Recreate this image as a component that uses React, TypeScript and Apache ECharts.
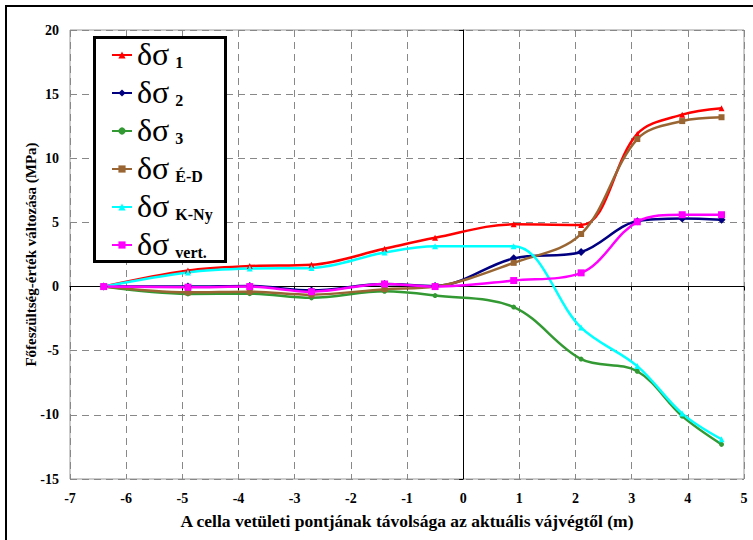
import React, { useEffect, useRef } from "react";
import * as echarts from "echarts";

const xVals = [-6.4, -4.9, -3.8, -2.7, -1.4, -0.5, 0.9, 2.1, 3.1, 3.9, 4.6];
const s1 = [0, 1.25, 1.6, 1.7, 2.95, 3.8, 4.85, 4.8, 11.9, 13.4, 13.9];
const s2 = [0, 0, 0.05, -0.3, 0.2, 0.05, 2.2, 2.7, 5.1, 5.3, 5.2];
const s3 = [0, -0.57, -0.55, -0.88, -0.37, -0.7, -1.6, -5.65, -6.6, -10.1, -12.3];
const sED = [0, -0.45, -0.4, -0.63, -0.2, 0, 1.85, 4.1, 11.5, 12.9, 13.2];
const sKNy = [0, 1.1, 1.4, 1.45, 2.65, 3.15, 3.15, -3.2, -6.2, -9.9, -11.9];
const sVert = [0, -0.05, 0, -0.4, 0.2, 0, 0.47, 1.07, 5.05, 5.6, 5.6];

const seriesNames = ["δσ 1", "δσ 2", "δσ 3", "δσ É-D", "δσ K-Ny", "δσ vert."];
const seriesValues = [s1, s2, s3, sED, sKNy, sVert];
const seriesColors = ["#ff0000", "#000080", "#339933", "#996633", "#00ffff", "#ff00ff"];
const seriesSymbols = ["triangle", "diamond", "circle", "rect", "triangle", "rect"];
const seriesSymbolSizes = [6, 8, 5, 6, 6, 7];

const xTitle = "A cella vetületi pontjának távolsága az aktuális vájvégtől (m)";
const yTitle = "Főfeszültség-érték változása (MPa)";

const FONT = "Liberation Serif";

export default function App() {
  const ref = useRef<HTMLDivElement>(null);
  useEffect(() => {
    if (!ref.current) return;
    const chart = echarts.init(ref.current, null, { renderer: "svg" });
    const axisBase = { type: "value" as const };
    const labelStyle = { color: "#000", fontFamily: FONT, fontWeight: "bold" as const, fontSize: 14 };
    const option: any = {
      animation: false,
      backgroundColor: "#fff",
      textStyle: { fontFamily: FONT },
      grid: { left: 70, top: 30, right: 9, bottom: 61, show: true, borderColor: "#999", borderWidth: 1 },
      xAxis: [
        {
          ...axisBase, min: -7, max: 5, interval: 1,
          axisLine: { onZero: true, onZeroAxisIndex: 0, lineStyle: { color: "#000", width: 1 } },
          axisTick: { show: true, length: 4, lineStyle: { color: "#000" } },
          axisLabel: { show: false },
          splitLine: { show: true, lineStyle: { type: [7, 5], color: "#888", width: 1 } },
        },
        {
          ...axisBase, min: -7, max: 5, interval: 1, position: "bottom",
          axisLine: { show: false, onZero: false },
          axisTick: { show: false },
          axisLabel: { ...labelStyle, margin: 12 },
          splitLine: { show: false },
          name: xTitle, nameLocation: "middle", nameGap: 33, nameMoveOverlap: false,
          nameTextStyle: { color: "#000", fontFamily: FONT, fontWeight: "bold", fontSize: 17.5 },
        },
      ],
      yAxis: [
        {
          ...axisBase, min: -15, max: 20, interval: 5,
          axisLine: { onZero: true, onZeroAxisIndex: 0, lineStyle: { color: "#000", width: 1 } },
          axisTick: { show: true, length: 4, lineStyle: { color: "#000" } },
          axisLabel: { show: false },
          splitLine: { show: true, lineStyle: { type: [7, 5], color: "#888", width: 1 } },
        },
        {
          ...axisBase, min: -15, max: 20, interval: 5, position: "left",
          axisLine: { show: false, onZero: false },
          axisTick: { show: false },
          axisLabel: { ...labelStyle, margin: 11 },
          splitLine: { show: false },
          name: yTitle, nameLocation: "middle", nameGap: 32, nameMoveOverlap: false,
          nameTextStyle: { color: "#000", fontFamily: FONT, fontWeight: "bold", fontSize: 15 },
        },
      ],
      graphic: [
        { type: "rect", z: 0, silent: true, shape: { x: 6, y: 6, width: 800, height: 600 }, style: { fill: "none", stroke: "#000", lineWidth: 2 } },
        { type: "rect", z: 50, silent: true, shape: { x: 94.5, y: 37.5, width: 131, height: 224 }, style: { fill: "#fff", stroke: "#000", lineWidth: 3 } },
      ],
      legend: {
        z: 60,
        orient: "vertical",
        left: 111,
        top: 24,
        padding: 0,
        itemGap: -8,
        itemWidth: 20,
        itemHeight: 9,
        data: seriesNames,
        formatter: (name: string) => {
          const sub = name.slice(3);
          return `{g|δσ}{s|${sub}}`;
        },
        textStyle: {
          color: "#000",
          fontFamily: FONT,
          rich: {
            g: { fontFamily: FONT, fontSize: 32, lineHeight: 30, color: "#000", padding: [14, 0, 0, 0], verticalAlign: "bottom" },
            s: { fontFamily: FONT, fontSize: 16, fontWeight: "bold", lineHeight: 16, color: "#000", padding: [0, 0, 0, 6], verticalAlign: "bottom" },
          },
        },
      },
      series: seriesNames.map((name, i) => ({
        name,
        type: "line",
        xAxisIndex: 0,
        yAxisIndex: 0,
        smooth: 0.35,
        data: xVals.map((x, j) => [x, seriesValues[i][j]]),
        symbol: seriesSymbols[i],
        symbolSize: seriesSymbolSizes[i],
        showAllSymbol: true,
        color: seriesColors[i],
        lineStyle: { color: seriesColors[i], width: 2.5 },
        itemStyle: { color: seriesColors[i] },
      })),
    };
    chart.setOption(option);
    return () => chart.dispose();
  }, []);
  return <div ref={ref} style={{ position: "absolute", left: 0, top: 0, width: 753, height: 540 }} />;
}
